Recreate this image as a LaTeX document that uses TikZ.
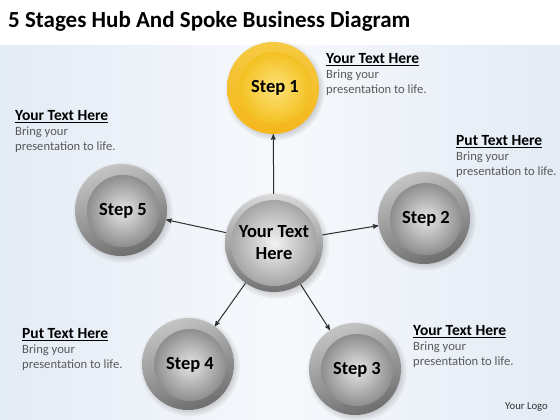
\documentclass[tikz,border=0pt]{standalone}
\usepackage{fontspec}
\setmainfont{Carlito}
\usepackage{tikz}
\usetikzlibrary{arrows}
\usetikzlibrary{calc}
\usetikzlibrary{shadows}

\definecolor{bgblue}{HTML}{E3EBF5}
\definecolor{spokegray}{HTML}{2E2E2E}
\definecolor{bodygray}{HTML}{595959}
\definecolor{ringlight}{HTML}{C4C4C4}
\definecolor{ringdark}{HTML}{6E6E6E}
\definecolor{balllight}{HTML}{E4E4E4}
\definecolor{balldark}{HTML}{8E8E8E}
\definecolor{goldlight}{HTML}{FDE27A}
\definecolor{golddark}{HTML}{F3C020}

\newcommand{\notehead}[1]{{\fontsize{15.5}{15}\selectfont\bfseries\color{black}\underline{#1}}}

\tikzset{
  ring/.style={circle, inner sep=0pt, minimum size=92pt,
    top color=ringlight, bottom color=ringdark, shading angle=20,
    circular drop shadow={shadow xshift=1.5pt, shadow yshift=-2pt, opacity=0.35}},
  ball/.style={circle, inner sep=0pt, minimum size=72pt,
    inner color=balllight, outer color=balldark,
    font=\fontsize{18.5}{20}\selectfont\bfseries},
  goldring/.style={ring, top color=golddark!85!white, bottom color=golddark!85!orange},
  goldball/.style={ball, inner color=goldlight, outer color=golddark},
  note/.style={anchor=north west, inner sep=0pt, align=left, text=bodygray,
    font=\fontsize{12.6}{15}\selectfont},
  spoke/.style={draw=spokegray, line width=1pt, ->, >=stealth'}
}

\begin{document}
\begin{tikzpicture}[x=1pt, y=-1pt]

  \useasboundingbox (0,0) rectangle (560,420);

  % Background
  \fill[white] (0,0) rectangle (560,420);
  \shade[left color=bgblue, right color=bgblue, middle color=white!70!bgblue]
    (0,46) rectangle (560,420);

  % Title
  \node[anchor=base west, inner sep=0pt, font=\fontsize{23}{27}\selectfont\bfseries]
    (title) at (8,28) {5 Stages Hub And Spoke Business Diagram};

  % Hub
  \node[ring, minimum size=98pt, top color=white!85!black, bottom color=black!55]
    (hubring) at (274,243) {};
  \node[ball, minimum size=86pt, inner color=white!95!black, outer color=black!35,
    align=center, font=\fontsize{18.5}{22}\selectfont\bfseries] (hub) at (hubring) {Your Text\\Here};

  % Steps
  \node[goldring] (s1ring) at (273,88) {};
  \node[goldball] (s1) at ($(s1ring)+(2,0)$) {Step 1};

  \node[ring] (s2ring) at (424,218) {};
  \node[ball] (s2) at ($(s2ring)+(2,1)$) {Step 2};

  \node[ring] (s3ring) at (355,369) {};
  \node[ball] (s3) at ($(s3ring)+(2,1)$) {Step 3};

  \node[ring] (s4ring) at (188,364) {};
  \node[ball] (s4) at ($(s4ring)+(2,1)$) {Step 4};

  \node[ring] (s5ring) at (121,210) {};
  \node[ball] (s5) at ($(s5ring)+(2,1)$) {Step 5};

  % Spokes
  \foreach \s in {s1ring, s2ring, s3ring, s4ring, s5ring}
    \draw[spoke] (hubring) -- (\s);

  % Notes
  \node[note] (n1) at (326,53) {\notehead{Your Text Here}\\Bring your\\presentation to life.};
  \node[note] (n2) at (456,135) {\notehead{Put Text Here}\\Bring your\\presentation to life.};
  \node[note] (n3) at (413,325) {\notehead{Your Text Here}\\Bring your\\presentation to life.};
  \node[note] (n4) at (22,328) {\notehead{Put Text Here}\\Bring your\\presentation to life.};
  \node[note] (n5) at (15,110) {\notehead{Your Text Here}\\Bring your\\presentation to life.};

  \node[anchor=base west, inner sep=0pt, font=\fontsize{10.7}{12}\selectfont, text=black!80]
    (logo) at (505,409) {Your Logo};

\end{tikzpicture}
\end{document}
